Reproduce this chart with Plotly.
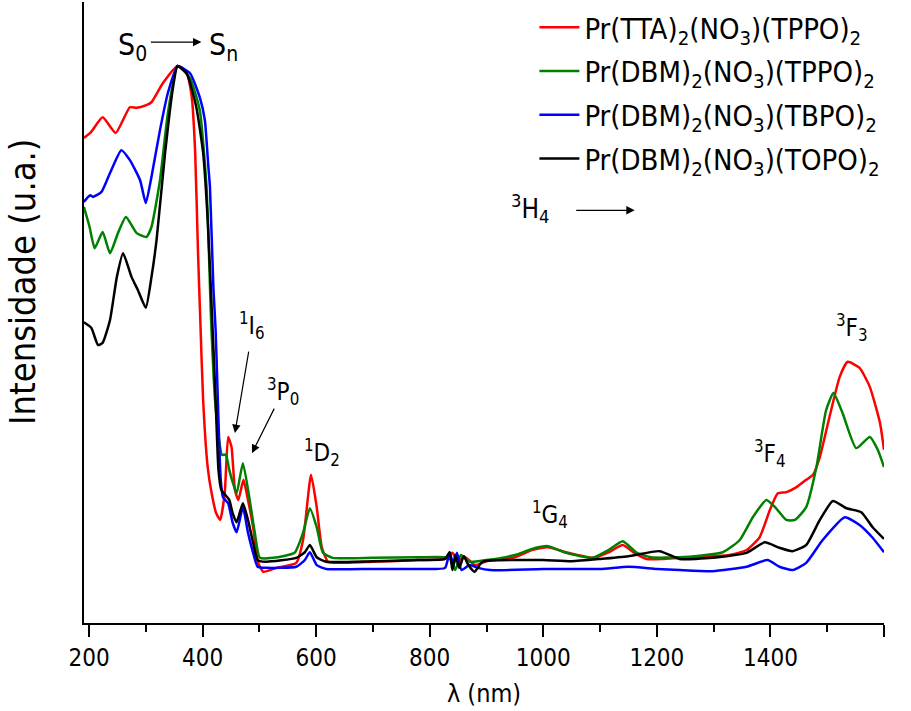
import plotly.graph_objects as go

# ---------------- data (wavelength in nm, normalized absorbance) ----------------
names = [
    "Pr(TTA)<sub>2</sub>(NO<sub>3</sub>)(TPPO)<sub>2</sub>",
    "Pr(DBM)<sub>2</sub>(NO<sub>3</sub>)(TPPO)<sub>2</sub>",
    "Pr(DBM)<sub>2</sub>(NO<sub>3</sub>)(TBPO)<sub>2</sub>",
    "Pr(DBM)<sub>2</sub>(NO<sub>3</sub>)(TOPO)<sub>2</sub>",
]
colors = ["#ff0000", "#008000", "#0000ff", "#000000"]

wl_tta_tppo = [191, 204, 224, 247, 272, 284, 301, 310, 330, 356, 372, 381, 387, 392, 396, 401, 409, 416,
               424, 431, 439, 445, 451, 457, 463, 472, 480, 489, 498, 507, 530, 565, 577, 591, 601, 610,
               621, 640, 700, 780, 827, 840, 850, 860, 880, 900, 950, 980, 1008, 1040, 1087, 1115, 1140,
               1160, 1182, 1210, 1240, 1328, 1358, 1381, 1399, 1413, 1428, 1446, 1463, 1475, 1487, 1504,
               1522, 1536, 1557, 1575, 1593, 1600]
ab_tta_tppo = [0.871, 0.882, 0.908, 0.880, 0.926, 0.925, 0.930, 0.935, 0.969, 1.000, 0.987, 0.944, 0.844,
               0.664, 0.544, 0.400, 0.280, 0.233, 0.197, 0.185, 0.233, 0.334, 0.316, 0.239, 0.221, 0.257,
               0.221, 0.172, 0.108, 0.092, 0.099, 0.108, 0.149, 0.266, 0.208, 0.136, 0.110, 0.108, 0.110,
               0.113, 0.115, 0.126, 0.110, 0.120, 0.104, 0.111, 0.118, 0.131, 0.136, 0.127, 0.117, 0.127,
               0.140, 0.126, 0.115, 0.115, 0.117, 0.122, 0.131, 0.154, 0.203, 0.233, 0.235, 0.244, 0.257,
               0.266, 0.298, 0.370, 0.442, 0.469, 0.458, 0.424, 0.359, 0.311]

wl_dbm_tppo = [191, 201, 210, 224, 237, 251, 265, 284, 301, 310, 325, 339, 356, 378, 395, 407, 415, 422,
               429, 434, 441, 447, 453, 460, 471, 483, 492, 501, 524, 562, 577, 589, 601, 612, 629, 700,
               780, 827, 838, 845, 855, 870, 900, 950, 980, 1008, 1040, 1087, 1115, 1140, 1165, 1190,
               1240, 1316, 1346, 1369, 1393, 1410, 1428, 1443, 1463, 1481, 1498, 1511, 1527, 1551, 1575,
               1589, 1600]
ab_dbm_tppo = [0.747, 0.711, 0.673, 0.702, 0.664, 0.700, 0.729, 0.700, 0.693, 0.711, 0.795, 0.916, 1.000,
               0.978, 0.921, 0.783, 0.544, 0.400, 0.329, 0.302, 0.302, 0.275, 0.253, 0.233, 0.287, 0.221,
               0.162, 0.117, 0.117, 0.126, 0.162, 0.206, 0.172, 0.126, 0.117, 0.117, 0.118, 0.118, 0.113,
               0.095, 0.122, 0.110, 0.113, 0.122, 0.133, 0.138, 0.126, 0.117, 0.131, 0.147, 0.126, 0.118,
               0.118, 0.127, 0.149, 0.190, 0.221, 0.206, 0.185, 0.185, 0.208, 0.280, 0.382, 0.413, 0.377,
               0.314, 0.334, 0.311, 0.280]

wl_dbm_tbpo = [191, 202, 207, 222, 237, 257, 272, 290, 300, 310, 325, 339, 356, 378, 395, 404, 410, 413,
               419, 423, 428, 432, 436, 445, 453, 460, 471, 480, 489, 497, 512, 565, 580, 589, 601, 618,
               700, 780, 827, 835, 842, 848, 856, 870, 885, 906, 1000, 1100, 1150, 1200, 1240, 1298, 1358,
               1395, 1416, 1439, 1463, 1492, 1531, 1557, 1580, 1600]
ab_dbm_tbpo = [0.756, 0.768, 0.765, 0.774, 0.808, 0.849, 0.831, 0.795, 0.754, 0.801, 0.885, 0.952, 1.000,
               0.987, 0.944, 0.903, 0.822, 0.783, 0.603, 0.526, 0.364, 0.257, 0.226, 0.215, 0.180, 0.163,
               0.208, 0.162, 0.126, 0.101, 0.099, 0.101, 0.113, 0.127, 0.104, 0.097, 0.097, 0.097, 0.099,
               0.127, 0.104, 0.126, 0.095, 0.104, 0.099, 0.095, 0.097, 0.097, 0.101, 0.097, 0.095, 0.093,
               0.101, 0.113, 0.101, 0.095, 0.108, 0.149, 0.190, 0.176, 0.153, 0.127]

wl_dbm_topo = [191, 204, 216, 224, 237, 249, 260, 275, 286, 300, 310, 319, 334, 348, 356, 372, 389, 401,
               409, 417, 423, 428, 433, 440, 447, 453, 460, 471, 480, 489, 497, 512, 565, 580, 589, 601,
               618, 700, 780, 827, 835, 840, 845, 852, 860, 868, 879, 893, 950, 1000, 1050, 1100, 1150,
               1205, 1240, 1298, 1358, 1390, 1416, 1439, 1463, 1487, 1510, 1534, 1560, 1580, 1600]
ab_dbm_topo = [0.540, 0.530, 0.499, 0.503, 0.544, 0.621, 0.664, 0.621, 0.598, 0.566, 0.621, 0.688, 0.844,
               0.962, 1.000, 0.987, 0.926, 0.844, 0.724, 0.544, 0.400, 0.275, 0.239, 0.230, 0.221, 0.197,
               0.181, 0.215, 0.185, 0.144, 0.113, 0.110, 0.117, 0.127, 0.140, 0.118, 0.110, 0.111, 0.113,
               0.115, 0.127, 0.095, 0.122, 0.099, 0.120, 0.104, 0.092, 0.110, 0.113, 0.113, 0.111, 0.115,
               0.120, 0.129, 0.115, 0.117, 0.126, 0.145, 0.135, 0.129, 0.140, 0.185, 0.219, 0.206, 0.199,
               0.172, 0.151]

x_ticks = [200, 400, 600, 800, 1000, 1200, 1400, 1600]
x_range = [191.2, 1600]
y_range = [0, 1.115]

FONT = "DejaVu Sans Condensed, Liberation Sans, Arial, sans-serif"

fig = go.Figure()
series = [(wl_tta_tppo, ab_tta_tppo), (wl_dbm_tppo, ab_dbm_tppo),
          (wl_dbm_tbpo, ab_dbm_tbpo), (wl_dbm_topo, ab_dbm_topo)]
for i, ((xs, ys), name, col) in enumerate(zip(series, names, colors)):
    fig.add_trace(go.Scatter(x=xs, y=ys, mode="lines", name=name, legendgroup=f"g{i}",
                             line=dict(color=col, width=2.5, shape="spline", smoothing=0.5)))

# ---------------- annotations ----------------
ann = []
def label(x, y, text, size=26):
    ann.append(dict(x=x, y=y, xref="x", yref="y", text=text, showarrow=False,
                    font=dict(family=FONT, size=size, color="black"),
                    xanchor="center", yanchor="middle"))

def arrow(x, y, ax, ay, head=2, size=1.4):
    ann.append(dict(x=x, y=y, xref="x", yref="y", text="", showarrow=True,
                    ax=ax, ay=ay, arrowhead=head, arrowsize=size, arrowwidth=1.2,
                    arrowcolor="black"))

label(276, 1.036, "S<sub>0</sub>", 30)
arrow(398, 1.043, -52, 0)
label(437, 1.036, "S<sub>n</sub>", 30)
label(487, 0.535, "<sup>1</sup>I<sub>6</sub>", 24)
arrow(457, 0.341, 14, -83)
label(542, 0.415, "<sup>3</sup>P<sub>0</sub>", 24)
arrow(487, 0.305, 23, -46)
label(610, 0.307, "<sup>1</sup>D<sub>2</sub>", 24)
label(1012, 0.194, "<sup>1</sup>G<sub>4</sub>", 24)
label(1399, 0.305, "<sup>3</sup>F<sub>4</sub>", 24)
label(1543, 0.531, "<sup>3</sup>F<sub>3</sub>", 24)
label(976, 0.745, "<sup>3</sup>H<sub>4</sub>", 26)
arrow(1161, 0.741, -60, 0)

# y-axis title (placed slightly above the axis centre, as in the original)
ann.append(dict(x=-0.0775, y=0.549, xref="paper", yref="paper", text="Intensidade (u.a.)",
                textangle=-90, showarrow=False, xanchor="center", yanchor="middle",
                font=dict(family=FONT, size=36, color="black")))

fig.update_layout(
    width=911, height=711,
    margin=dict(l=84, r=27, t=2, b=88),
    paper_bgcolor="white", plot_bgcolor="white",
    font=dict(family=FONT, size=24, color="black"),
    showlegend=True,
    legend=dict(x=0.563, y=1.0, xanchor="left", yanchor="top",
                bgcolor="rgba(0,0,0,0)", font=dict(family=FONT, size=29),
                tracegroupgap=3, itemwidth=40),
    annotations=ann,
    xaxis=dict(range=x_range, tickvals=x_ticks, ticks="outside", ticklen=12, tickwidth=2,
               tickcolor="black", showline=True, linecolor="black", linewidth=2,
               showgrid=False, zeroline=False, mirror=False, automargin=False,
               tickfont=dict(family=FONT, size=24),
               minor=dict(dtick=100, tick0=200, ticks="outside", ticklen=7, tickwidth=2, tickcolor="black"),
               title=dict(text="λ (nm)", font=dict(family=FONT, size=25), standoff=14)),
    yaxis=dict(range=y_range, showticklabels=False, ticks="", showline=True, linecolor="black",
               linewidth=2, showgrid=False, zeroline=False, automargin=False),
)

fig.write_html("out.html", config={"displayModeBar": False},
               post_script="document.body.style.margin='0';document.body.style.overflow='hidden';")
